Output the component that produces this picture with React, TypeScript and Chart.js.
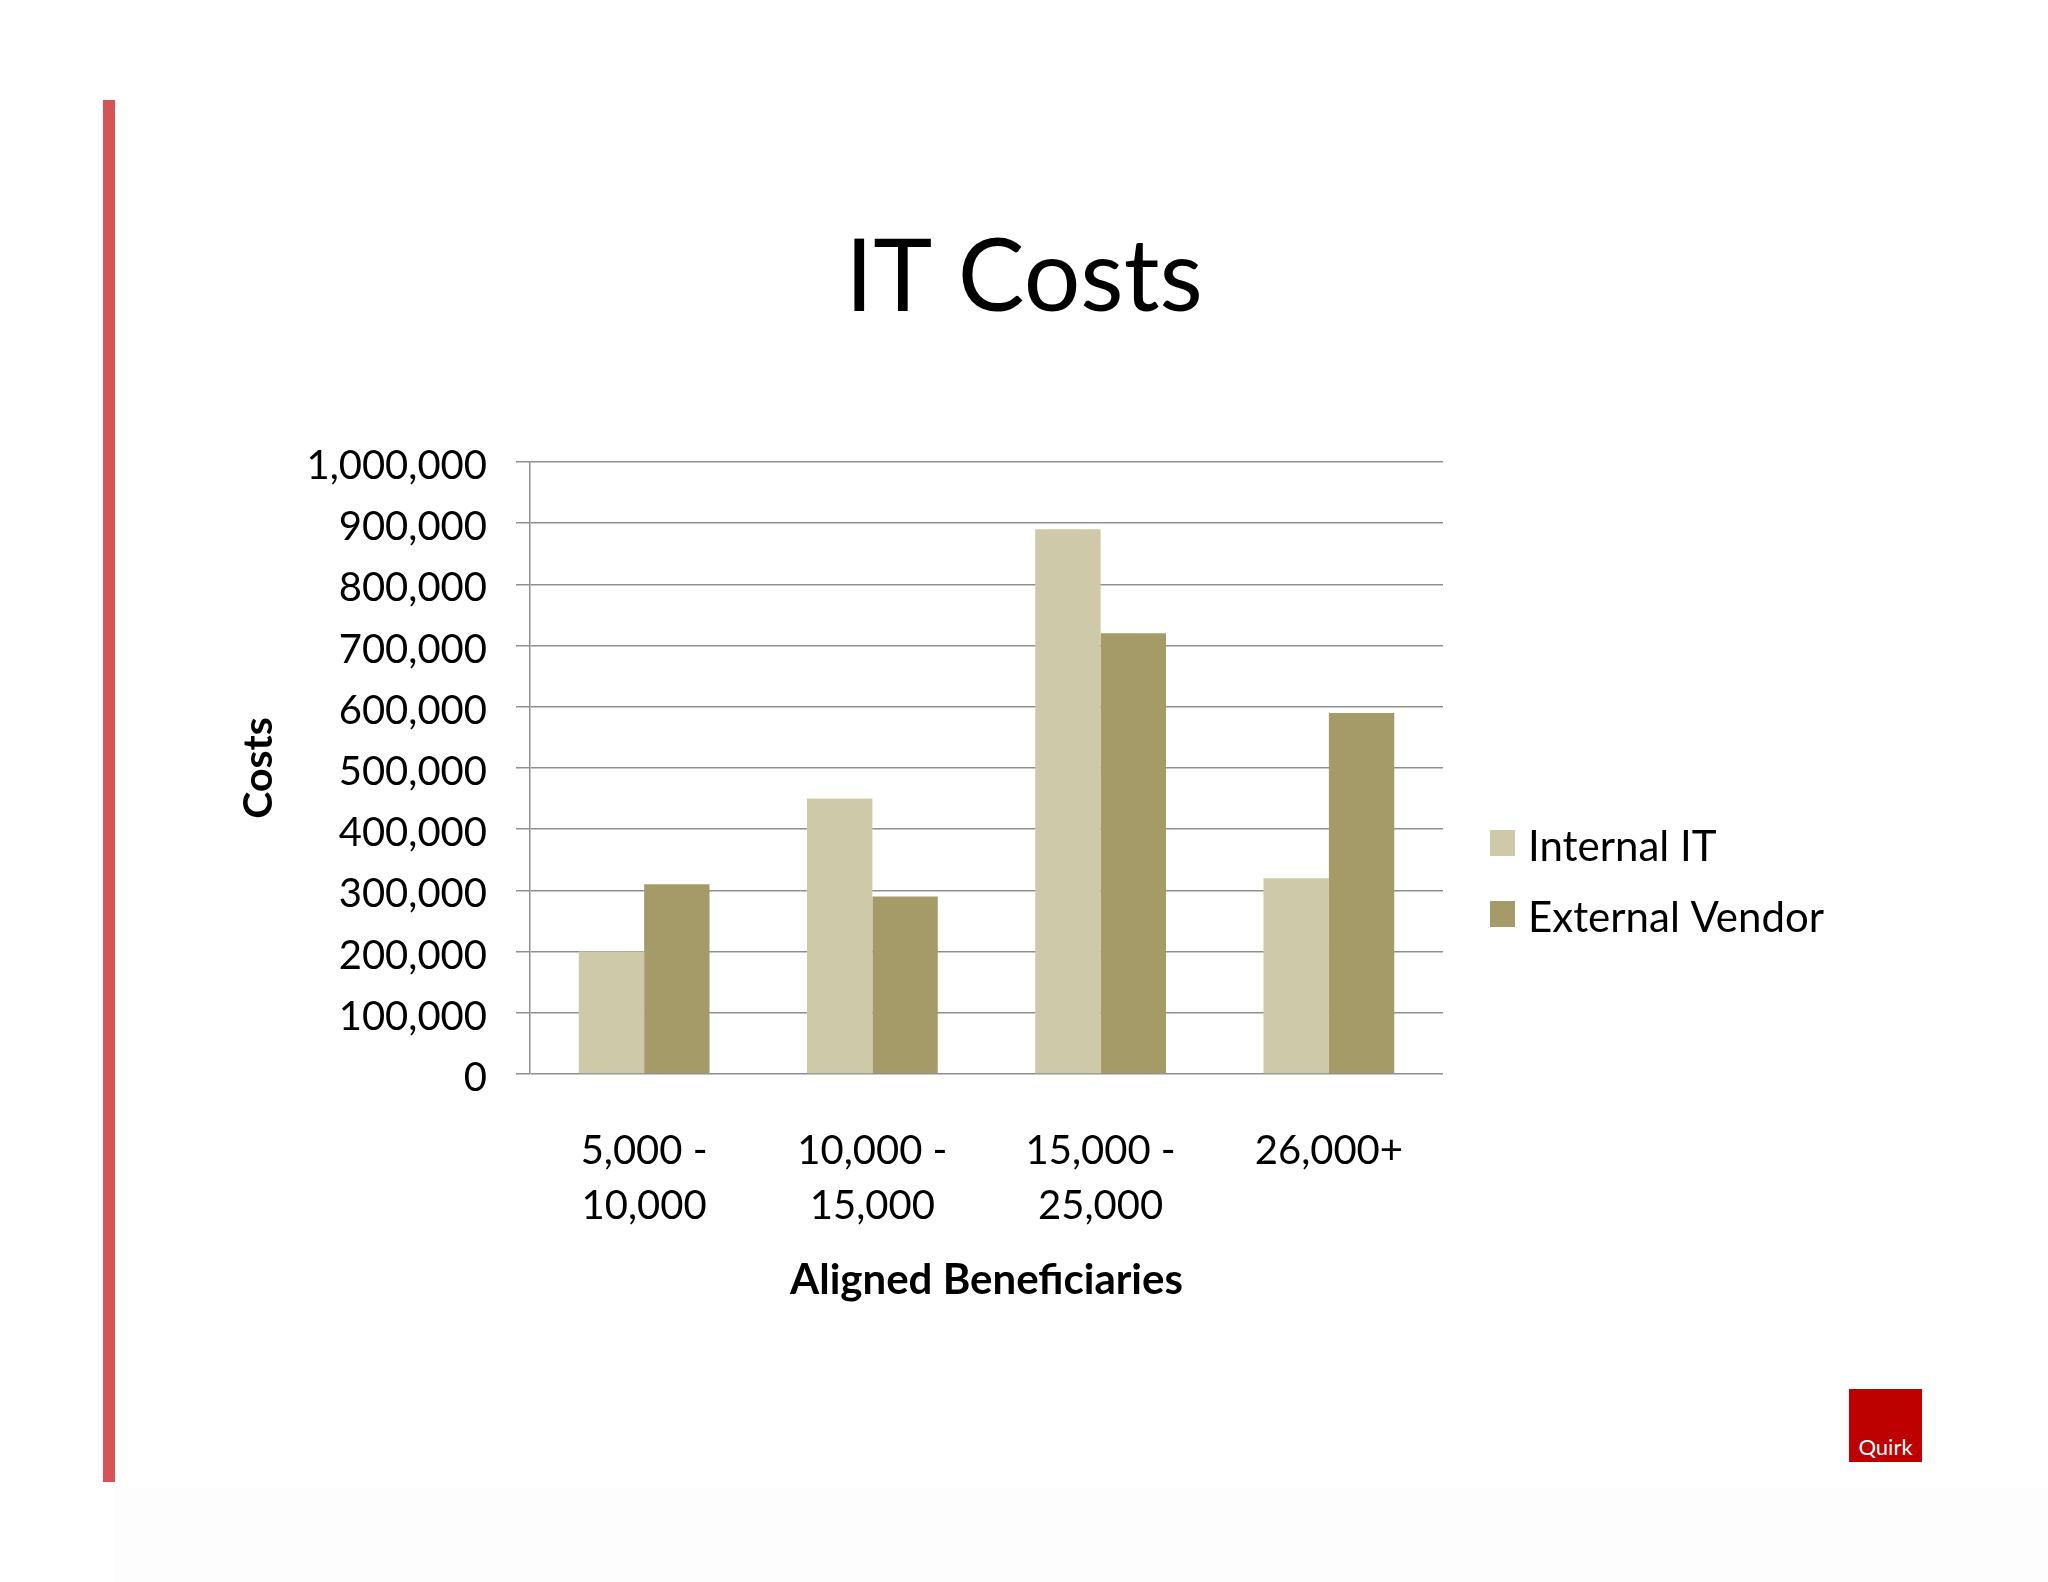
import React, { useEffect, useRef } from "react";
import { Chart, registerables } from "chart.js";

Chart.register(...registerables);

const TITLE = "IT Costs";
const CATEGORIES: string[][] = [
  ["5,000 -", "10,000"],
  ["10,000 -", "15,000"],
  ["15,000 -", "25,000"],
  ["26,000+"],
];
const SERIES_NAMES = ["Internal IT", "External Vendor"];
const INTERNAL_IT = [200000, 450000, 890000, 320000];
const EXTERNAL_VENDOR = [310000, 290000, 720000, 590000];
const SERIES_COLORS = ["#CEC9A9", "#A59B68"];
const Y_MIN = 0;
const Y_MAX = 1000000;
const Y_STEP = 100000;
const X_TITLE = "Aligned Beneficiaries";
const Y_TITLE = "Costs";

const FONT = "Lato, 'Open Sans', sans-serif";
const GRID = "#8f8f8f";

const titlePlugin = {
  id: "slideTitle",
  afterDraw(chart: any) {
    const ctx = chart.ctx;
    ctx.save();
    ctx.fillStyle = "#000";
    ctx.font = `100px ${FONT}`;
    ctx.textAlign = "center";
    ctx.textBaseline = "middle";
    ctx.fillText(TITLE, 1024, 279);
    ctx.restore();
  },
};

const legendPlugin = {
  id: "sideLegend",
  afterDraw(chart: any) {
    const ctx = chart.ctx;
    const centers = [843, 914];
    ctx.save();
    chart.data.datasets.forEach((ds: any, i: number) => {
      const cy = centers[i];
      ctx.fillStyle = ds.backgroundColor;
      ctx.fillRect(1490, cy - 13, 25, 26);
      ctx.fillStyle = "#000";
      ctx.font = `42px ${FONT}`;
      ctx.textBaseline = "middle";
      ctx.textAlign = "left";
      ctx.fillText(ds.label, 1528, cy + 4);
    });
    ctx.restore();
  },
};

function ChartView() {
  const ref = useRef<HTMLCanvasElement | null>(null);
  useEffect(() => {
    if (!ref.current) return;
    const chart = new Chart(ref.current, {
      type: "bar",
      data: {
        labels: CATEGORIES,
        datasets: [
          { label: SERIES_NAMES[0], data: INTERNAL_IT, backgroundColor: SERIES_COLORS[0] },
          { label: SERIES_NAMES[1], data: EXTERNAL_VENDOR, backgroundColor: SERIES_COLORS[1] },
        ],
      },
      options: {
        animation: false,
        responsive: false,
        devicePixelRatio: 1,
        layout: { padding: { left: 235, right: 605, top: 462, bottom: 278 } },
        datasets: { bar: { categoryPercentage: 0.573, barPercentage: 1.0 } },
        plugins: {
          legend: { display: false },
          tooltip: { enabled: false },
          title: { display: false },
        },
        scales: {
          x: {
            grid: { display: false, drawTicks: false },
            border: { display: false },
            ticks: {
              color: "#000",
              padding: 50,
              maxRotation: 0,
              autoSkip: false,
              font: { family: FONT, size: 40, lineHeight: "55px" },
            },
            title: {
              display: true,
              text: X_TITLE,
              color: "#000",
              padding: 0,
              font: { family: FONT, size: 42, weight: "bold", lineHeight: "48px" },
            },
            afterFit: (scale: any) => {
              scale.height = 230;
            },
          },
          y: {
            min: Y_MIN,
            max: Y_MAX,
            grid: { color: GRID, lineWidth: 1.5, tickLength: 14, tickColor: GRID, drawTicks: true },
            border: { display: true, color: GRID, width: 1.5 },
            ticks: {
              stepSize: Y_STEP,
              color: "#000",
              padding: 29,
              labelOffset: 4,
              font: { family: FONT, size: 40 },
              callback: (v: any) => Number(v).toLocaleString("en-US"),
            },
            title: {
              display: true,
              text: Y_TITLE,
              color: "#000",
              padding: 0,
              font: { family: FONT, size: 41, weight: "bold", lineHeight: "48px" },
            },
            afterFit: (scale: any) => {
              scale.width = 295;
            },
          },
        },
      },
      plugins: [titlePlugin, legendPlugin],
    });
    return () => chart.destroy();
  }, []);
  return (
    <canvas
      ref={ref}
      width={2048}
      height={1582}
      style={{ position: "absolute", left: 0, top: 0, width: 2048, height: 1582 }}
    />
  );
}

export default function App() {
  return (
    <div
      style={{
        position: "fixed",
        left: 0,
        top: 0,
        width: 2048,
        height: 1582,
        background: "#ffffff",
        overflow: "hidden",
      }}
    >
      <div style={{ position: "absolute", left: 115, top: 1488, width: 1933, height: 94, background: "#fdfdfd" }} />
      <div style={{ position: "absolute", left: 103, top: 100, width: 12, height: 1382, background: "#D65356" }} />
      <ChartView />
      <div
        style={{
          position: "absolute",
          left: 1849,
          top: 1389,
          width: 73,
          height: 73,
          background: "#BD0000",
          color: "#fff",
          fontFamily: FONT,
          fontSize: 22,
          lineHeight: "22px",
          display: "flex",
          alignItems: "flex-end",
          justifyContent: "center",
          paddingBottom: 4,
          boxSizing: "border-box",
        }}
      >
        Quirk
      </div>
    </div>
  );
}
